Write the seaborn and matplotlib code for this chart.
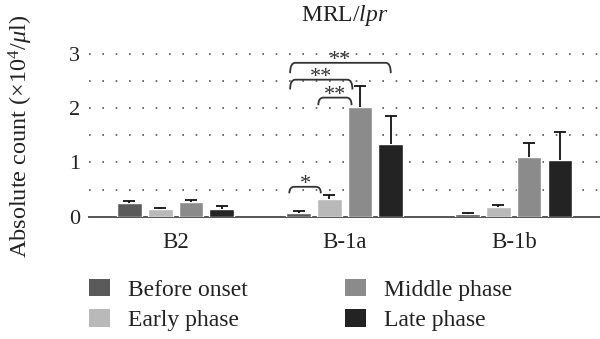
import numpy as np
import pandas as pd
import matplotlib
matplotlib.use("Agg")
import matplotlib.pyplot as plt
from matplotlib.patches import Patch
from matplotlib.path import Path
from matplotlib.patches import PathPatch
import seaborn as sns

# ---- data ----
categories = ["B2", "B-1a", "B-1b"]
phases = ["Before onset", "Early phase", "Middle phase", "Late phase"]
before_onset = [0.25, 0.07, 0.05]
early_phase = [0.135, 0.32, 0.17]
middle_phase = [0.27, 2.01, 1.10]
late_phase = [0.148, 1.34, 1.05]
before_err = [0.03, 0.03, 0.01]
early_err = [0.025, 0.07, 0.04]
middle_err = [0.04, 0.40, 0.25]
late_err = [0.05, 0.51, 0.50]
colors = ["#5a5a5a", "#b9b9b9", "#8b8b8b", "#232323"]
y_ticks = [0, 1, 2, 3]

means = [before_onset, early_phase, middle_phase, late_phase]
errs = [before_err, early_err, middle_err, late_err]
df = pd.DataFrame({
    "cat": [c for _ in phases for c in categories],
    "phase": [p for p in phases for _ in categories],
    "val": [v for m in means for v in m],
})

sns.set_theme(style="white")
plt.rcParams["font.family"] = ["Liberation Serif", "DejaVu Serif"]
plt.rcParams["mathtext.fontset"] = "custom"
plt.rcParams["mathtext.rm"] = "Liberation Serif"
plt.rcParams["mathtext.it"] = "Liberation Serif:italic"

fig = plt.figure(figsize=(6.0, 3.39), dpi=100)
ax = fig.add_axes([89 / 600, (339 - 216.7) / 339, 1 - 89 / 600, 174 / 339])

sns.barplot(data=df, x="cat", y="val", hue="phase", order=categories,
            hue_order=phases, palette=colors, width=0.727, gap=0.2,
            errorbar=None, legend=False, saturation=1, ax=ax, zorder=3)

# error bars (upward only)
bar_containers = list(ax.containers)
centers = {}
for hi, cont in enumerate(bar_containers):
    bars = [b for b in cont.patches if b is not None]
    xs = [b.get_x() + b.get_width() / 2 for b in bars]
    hs = [b.get_height() for b in bars]
    centers[hi] = xs
    _, caps, _ = ax.errorbar(xs, hs, yerr=[np.zeros(len(xs)), errs[hi]],
                             fmt="none", ecolor="#111111", elinewidth=1.3,
                             capsize=4, capthick=1.3, zorder=4)
    caps[0].set_visible(False)

ax.set_xlim(-0.512, 2.51)
ax.set_ylim(0, 3.2)
ax.set_yticks(y_ticks)
ax.set_yticklabels([str(t) for t in y_ticks], fontsize=16, color="#222222")
ax.tick_params(axis="both", which="both", length=0)
ax.tick_params(axis="y", pad=6.5)
ax.tick_params(axis="x", labelsize=16.5, labelcolor="#222222", pad=11)
ax.grid(False)
for yv in [0.5, 1, 1.5, 2, 2.5, 3]:
    ax.axhline(yv, color="#555555", lw=1.2, ls=(0, (1, 7)), zorder=1)
for s in ["top", "right", "left"]:
    ax.spines[s].set_visible(False)
ax.spines["bottom"].set_color("#555555")
ax.spines["bottom"].set_linewidth(1.4)
ax.set_xlabel("")
ax.set_ylabel(r"Absolute count ($\times$10$^4$/$\mathit{\mu}$l)", fontsize=17.5,
              color="#222222")
ax.yaxis.set_label_coords(-0.105, 0.465)

fig.text(0.575, 0.955, r"MRL/$\mathit{lpr}$", ha="center", va="center",
         fontsize=17, color="#222222")

# significance brackets for B-1a
def bracket(x1, x2, y, drop, label):
    r = 0.03
    verts = [(x1, y - drop), (x1, y), (x1 + r, y), (x2 - r, y), (x2, y), (x2, y - drop)]
    codes = [Path.MOVETO, Path.CURVE3, Path.CURVE3, Path.LINETO, Path.CURVE3, Path.CURVE3]
    ax.add_patch(PathPatch(Path(verts, codes), fill=False, lw=1.3,
                           edgecolor="#333333", zorder=5))
    ax.text((x1 + x2) / 2, y - 0.04, label, ha="center", va="baseline",
            fontsize=16, color="#333333", zorder=5)

g = 1
brackets = [(0, 1, 0.55, 0.12, "*", -0.055, -0.05),
            (1, 2, 2.19, 0.14, "**", -0.065, -0.05),
            (0, 2, 2.52, 0.18, "**", -0.05, -0.045),
            (0, 3, 2.83, 0.19, "**", -0.05, 0.0)]
for i, j, y, d, lab, o1, o2 in brackets:
    bracket(centers[i][g] + o1, centers[j][g] + o2, y, d, lab)

handles = [Patch(facecolor=c, edgecolor="none") for c in colors]
common = dict(ncol=1, loc="center left", frameon=False, fontsize=17,
              handlelength=0.9, handleheight=0.76, handletextpad=0.75,
              labelspacing=0.36, borderpad=0, borderaxespad=0,
              labelcolor="#222222")
fig.legend(handles[:2], phases[:2], bbox_to_anchor=(89 / 600, 1 - 305 / 339), **common)
fig.legend(handles[2:], phases[2:], bbox_to_anchor=(345 / 600, 1 - 305 / 339), **common)

fig.savefig("out.png", dpi=100)
